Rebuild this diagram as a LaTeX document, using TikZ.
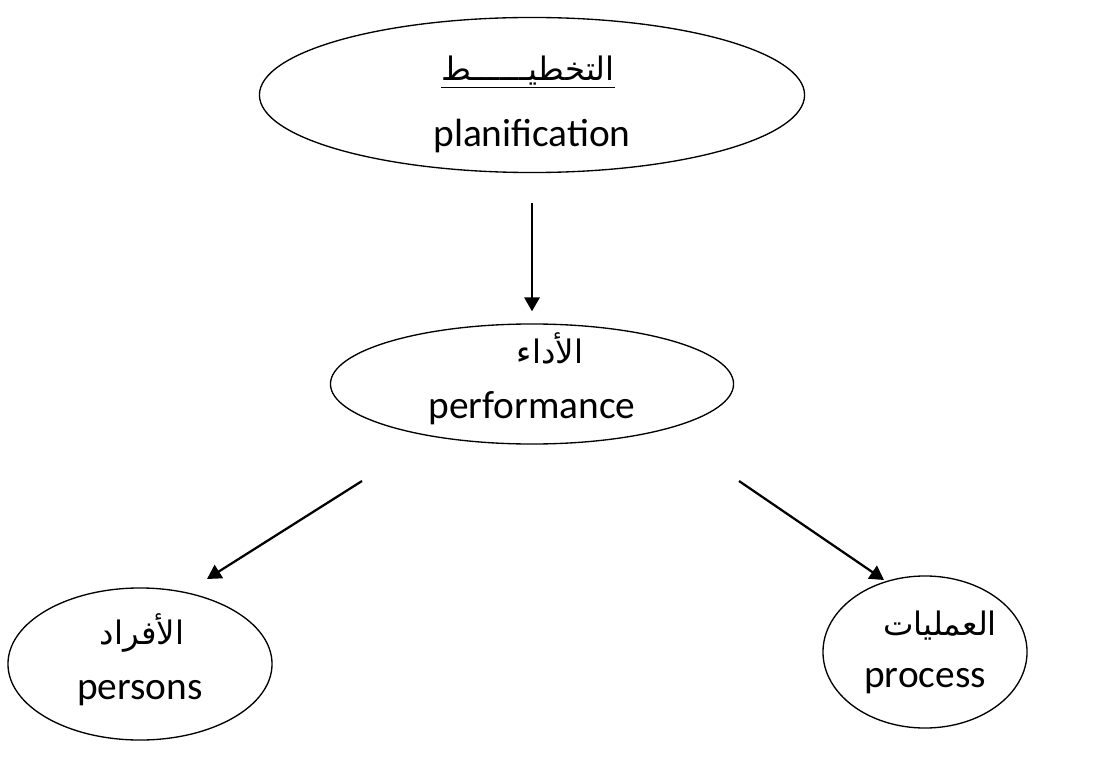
\documentclass[tikz,border=0pt]{standalone}
\usepackage{fontspec}
\setmainfont{Carlito}
\newfontfamily\arabicfont[Script=Arabic]{DejaVu Sans}
\TeXXeTstate=1
\usetikzlibrary{arrows.meta,shapes.geometric}
\tikzset{
  oval/.style={draw, ellipse, line width=0.95pt, inner sep=0pt},
  arr/.style={-{Triangle[length=10pt,width=11pt]}, line width=1.6pt},
  lat/.style={font=\fontsize{28}{30}\selectfont, inner sep=0pt},
  arb/.style={font=\arabicfont\fontsize{23}{27}\selectfont, inner sep=0pt},
}
\begin{document}
\begin{tikzpicture}[x=0.025cm,y=-0.025cm]
\useasboundingbox (0,0) rectangle (1102,760);

\node [oval, minimum width=13.625cm, minimum height=3.875cm] (plan) at (532,95) {};
\node [arb] (planAr) at (528,72) {\underline{\beginR التخطيــــــط\endR}};
\node [lat] (planFr) at (532,136) {planification};

\node [oval, minimum width=10.075cm, minimum height=3cm] (perf) at (532,384) {};
\node [arb] (perfAr) at (550,348) {\beginR الأداء\endR};
\node [lat] (perfFr) at (532,408) {performance};

\node [oval, minimum width=6.6cm, minimum height=3.8cm] (pers) at (140,664) {};
\node [arb] (persAr) at (142,633) {\beginR الأفراد\endR};
\node [lat] (persFr) at (140,693) {persons};

\node [oval, minimum width=5.1cm, minimum height=3.8cm] (proc) at (925,652) {};
\node [arb] (procAr) at (940,626) {\beginR العمليات\endR};
\node [lat] (procFr) at (925,681) {process};

\draw [arr] ([shift={(0,30)}]plan.south) -- ([shift={(0,-12)}]perf.north);
\draw [arr] ([shift={(-170,97)}]perf.center) -- ([shift={(67,-85)}]pers.center);
\draw [arr] ([shift={(207,97)}]perf.center) -- ([shift={(-41,-72)}]proc.center);

\end{tikzpicture}
\end{document}
